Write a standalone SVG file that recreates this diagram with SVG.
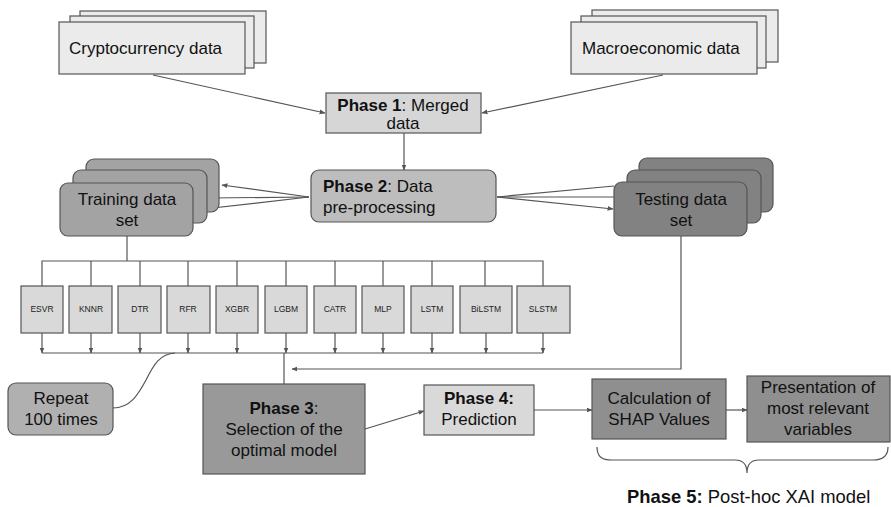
<svg xmlns="http://www.w3.org/2000/svg" width="891" height="507" viewBox="0 0 891 507">
<defs>
<marker id="ah" viewBox="0 0 10 10" refX="9" refY="5" markerWidth="6" markerHeight="6" orient="auto" markerUnits="userSpaceOnUse"><path d="M0,1 L10,5 L0,9 z" fill="#555"/></marker>
<style>
text{font-family:"Liberation Sans",Arial,sans-serif;fill:#111;}
.t{font-size:17px;}
.c{text-anchor:middle;}
.m{font-size:8.5px;text-anchor:middle;fill:#222;}
.b{font-weight:bold;}
.box{stroke:#555;stroke-width:1.2;}
.ln{fill:none;stroke:#555;stroke-width:1.2;}
.arr{fill:none;stroke:#555;stroke-width:1.2;marker-end:url(#ah);}
.l1{fill:#ebebeb;}
.l2{fill:#d6d6d6;}
.l3{fill:#bdbdbd;}
.l4{fill:#a3a3a3;}
.l5{fill:#828282;}
.l6{fill:#999;}
.l7{fill:#8f8f8f;}
.lm{fill:#d9d9d9;}
</style>
</defs>
<rect width="891" height="507" fill="#fff"/>

<g id="connectors">
<line class="arr" x1="153" y1="75" x2="325" y2="113"/>
<line class="arr" x1="663" y1="75" x2="482" y2="113"/>
<line class="arr" x1="404" y1="133" x2="404" y2="170"/>
<line class="arr" x1="309" y1="197" x2="222" y2="185"/>
<line class="arr" x1="309" y1="197" x2="208" y2="198"/>
<line class="arr" x1="309" y1="197" x2="195" y2="210"/>
<line class="ln" x1="497" y1="197" x2="614" y2="186"/>
<line class="ln" x1="497" y1="197" x2="614" y2="197"/>
<line class="arr" x1="497" y1="197" x2="613" y2="209"/>
<line class="ln" x1="127" y1="236" x2="127" y2="261"/>
<polyline class="ln" points="42,286 42,261 543,261 543,286"/>
<line class="ln" x1="91" y1="261" x2="91" y2="286"/>
<line class="ln" x1="140" y1="261" x2="140" y2="286"/>
<line class="ln" x1="188" y1="261" x2="188" y2="286"/>
<line class="ln" x1="237" y1="261" x2="237" y2="286"/>
<line class="ln" x1="286" y1="261" x2="286" y2="286"/>
<line class="ln" x1="335" y1="261" x2="335" y2="286"/>
<line class="ln" x1="383" y1="261" x2="383" y2="286"/>
<line class="ln" x1="432" y1="261" x2="432" y2="286"/>
<line class="ln" x1="485" y1="261" x2="485" y2="286"/>
<line class="arr" x1="42" y1="333" x2="42" y2="353"/>
<line class="arr" x1="91" y1="333" x2="91" y2="353"/>
<line class="arr" x1="140" y1="333" x2="140" y2="353"/>
<line class="arr" x1="188" y1="333" x2="188" y2="353"/>
<line class="arr" x1="237" y1="333" x2="237" y2="353"/>
<line class="arr" x1="286" y1="333" x2="286" y2="353"/>
<line class="arr" x1="335" y1="333" x2="335" y2="353"/>
<line class="arr" x1="383" y1="333" x2="383" y2="353"/>
<line class="arr" x1="432" y1="333" x2="432" y2="353"/>
<line class="arr" x1="486" y1="333" x2="486" y2="353"/>
<line class="arr" x1="543" y1="333" x2="543" y2="353"/>
<line class="ln" x1="42" y1="353" x2="543" y2="353"/>
<line class="ln" x1="284" y1="353" x2="284" y2="384"/>
<polyline class="arr" points="681,236 681,369 292,369"/>
<path class="ln" d="M113,408 C130,408 138,395 146,380 C154,364 160,354 175,353"/>
<line class="arr" x1="365" y1="429" x2="424" y2="411"/>
<line class="arr" x1="534" y1="410" x2="592" y2="410"/>
<line class="arr" x1="726" y1="410" x2="747" y2="410"/>
<path class="ln" d="M597,447 C597,457 602,460 612,460 L735,460 C743,460 747,465 747,473 C747,465 751,460 759,460 L873,460 C883,460 888,456 888,447"/>
</g>

<g id="crypto">
<rect class="box l1" x="80" y="11" width="186" height="52"/>
<rect class="box l1" x="70" y="16" width="184" height="52"/>
<rect class="box l1" x="59" y="22" width="186" height="52"/>
<text class="t" x="69" y="54">Cryptocurrency data</text>
</g>

<g id="macro">
<rect class="box l1" x="592" y="10" width="186" height="52"/>
<rect class="box l1" x="581" y="16" width="185" height="52"/>
<rect class="box l1" x="571" y="22" width="186" height="52"/>
<text class="t" x="582" y="54">Macroeconomic data</text>
</g>

<g id="phase1">
<rect class="box l2" x="326" y="93" width="155" height="40"/>
<text class="t c" x="403" y="111"><tspan class="b">Phase 1</tspan>: Merged</text>
<text class="t c" x="403" y="129">data</text>
</g>

<g id="phase2">
<rect class="box l3" x="311" y="170" width="185" height="52" rx="8"/>
<text class="t" x="323" y="192"><tspan class="b">Phase 2</tspan>: Data</text>
<text class="t" x="323" y="213">pre-processing</text>
</g>

<g id="training">
<rect class="box l4" x="86" y="159" width="133" height="53" rx="8"/>
<rect class="box l4" x="73" y="170" width="134" height="53" rx="8"/>
<rect class="box l4" x="60" y="183" width="133" height="53" rx="8"/>
<text class="t c" x="127" y="205">Training data</text>
<text class="t c" x="127" y="226">set</text>
</g>

<g id="testing">
<rect class="box l5" x="639" y="158" width="134" height="54" rx="8"/>
<rect class="box l5" x="627" y="170" width="134" height="53" rx="8"/>
<rect class="box l5" x="614" y="182" width="133" height="54" rx="8"/>
<text class="t c" x="681" y="205">Testing data</text>
<text class="t c" x="681" y="226">set</text>
</g>

<g id="esvr"><rect class="box lm" x="21" y="286" width="42" height="47"/><text class="m" x="42" y="312">ESVR</text></g>
<g id="knnr"><rect class="box lm" x="69" y="286" width="43" height="47"/><text class="m" x="91" y="312">KNNR</text></g>
<g id="dtr"><rect class="box lm" x="118" y="286" width="43" height="47"/><text class="m" x="140" y="312">DTR</text></g>
<g id="rfr"><rect class="box lm" x="167" y="286" width="43" height="47"/><text class="m" x="188" y="312">RFR</text></g>
<g id="xgbr"><rect class="box lm" x="216" y="286" width="42" height="47"/><text class="m" x="237" y="312">XGBR</text></g>
<g id="lgbm"><rect class="box lm" x="265" y="286" width="42" height="47"/><text class="m" x="286" y="312">LGBM</text></g>
<g id="catr"><rect class="box lm" x="314" y="286" width="42" height="47"/><text class="m" x="335" y="312">CATR</text></g>
<g id="mlp"><rect class="box lm" x="362" y="286" width="42" height="47"/><text class="m" x="383" y="312">MLP</text></g>
<g id="lstm"><rect class="box lm" x="411" y="286" width="42" height="47"/><text class="m" x="432" y="312">LSTM</text></g>
<g id="bilstm"><rect class="box lm" x="460" y="286" width="52" height="47"/><text class="m" x="486" y="312">BiLSTM</text></g>
<g id="slstm"><rect class="box lm" x="517" y="286" width="53" height="47"/><text class="m" x="543" y="312">SLSTM</text></g>

<g id="repeat">
<rect class="box" fill="#b0b0b0" x="8" y="383" width="105" height="52" rx="8"/>
<text class="t c" x="61" y="404">Repeat</text>
<text class="t c" x="61" y="425">100 times</text>
</g>

<g id="phase3">
<rect class="box l6" x="203" y="384" width="162" height="90"/>
<text class="t c" x="284" y="414"><tspan class="b">Phase 3</tspan>:</text>
<text class="t c" x="284" y="435">Selection of the</text>
<text class="t c" x="284" y="456">optimal model</text>
</g>

<g id="phase4">
<rect class="box lm" x="424" y="385" width="110" height="50"/>
<text class="t c b" x="479" y="404">Phase 4:</text>
<text class="t c" x="479" y="425">Prediction</text>
</g>

<g id="shap">
<rect class="box l7" x="592" y="379" width="134" height="60"/>
<text class="t c" x="659" y="404">Calculation of</text>
<text class="t c" x="659" y="425">SHAP Values</text>
</g>

<g id="presentation">
<rect class="box l7" x="747" y="376" width="143" height="66"/>
<text class="t c" x="818" y="393">Presentation of</text>
<text class="t c" x="818" y="414">most relevant</text>
<text class="t c" x="818" y="435">variables</text>
</g>

<g id="phase5">
<text x="627" y="503" font-size="18.4"><tspan class="b">Phase 5:</tspan> Post-hoc XAI model</text>
</g>
</svg>
